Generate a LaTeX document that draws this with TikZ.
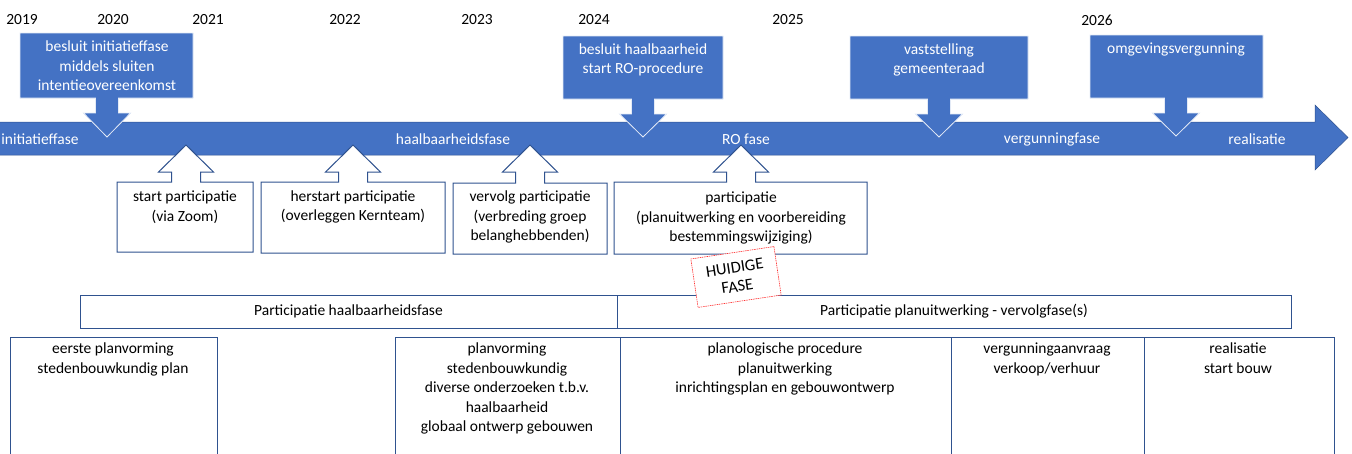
\documentclass[tikz,border=0pt]{standalone}
\usepackage{fontspec}
\setmainfont{Carlito}
\definecolor{obl}{HTML}{4472C4}
\definecolor{odk}{HTML}{2F528F}
\newcommand\dcall[6]{%
  \draw[dcallout] (#1,#3) -- (#2,#3) -- (#2,#4) -- (#5+11.5,#4) -- (#5+11.5,#4+15) -- (#5+23.5,#4+15) -- (#5,#6) -- (#5-23.5,#4+15) -- (#5-11.5,#4+15) -- (#5-11.5,#4) -- (#1,#4) -- cycle;}
\newcommand\ucall[5]{%
  \draw[ucallout] (#1,#4) -- (#2,#4) -- (#2,#3) -- (#5+14.5,#3) -- (#5+14.5,172) -- (#5+27.5,172) -- (#5,145) -- (#5-27.5,172) -- (#5-14.5,172) -- (#5-14.5,#3) -- (#1,#3) -- cycle;}
\tikzset{
  txt/.style={font=\fontsize{15.5}{19.5}\selectfont, align=center, inner sep=0pt},
  wtxt/.style={txt, text=white},
  dcallout/.style={fill=obl, draw=white!85!obl, line width=0.8pt},
  ucallout/.style={fill=white, draw=odk, line width=1pt},
  plainbox/.style={draw=odk, line width=1pt},
}
\begin{document}
\begin{tikzpicture}[x=1pt,y=-1pt]
\useasboundingbox (0,0) rectangle (1352,453);
% years
\foreach \x/\yr in {22/2019,113/2020,208/2021,345/2022,477/2023,594/2024,788/2025,1097/2026}
  \node[txt] (y\yr) at (\x,20) {\yr};
% main band arrow
\fill[obl, draw=odk, line width=0.5pt] (-2,122) -- (1315,122) -- (1315,105) -- (1348,137.5) -- (1315,170) -- (1315,155) -- (-2,155) -- cycle;
% down callouts
\dcall{20}{193}{33}{98}{107}{137}
\dcall{563}{723}{36}{99}{643}{137}
\dcall{850}{1028}{36}{99}{939}{137}
\dcall{1090}{1263}{35}{98}{1176}{136}
\node[wtxt] (d1) at (107,66) {besluit initiatieffase\\middels sluiten\\intentieovereenkomst};
\node[wtxt] (d2) at (643,60) {besluit haalbaarheid\\start RO-procedure};
\node[wtxt] (d3) at (939,60) {vaststelling\\gemeenteraad};
\node[wtxt] (d4) at (1176,49) {omgevingsvergunning};
% phase labels
\node[wtxt] (p1) at (40,139) {initiatieffase};
\node[wtxt] (p2) at (453,139) {haalbaarheidsfase};
\node[wtxt] (p3) at (746,139) {RO fase};
\node[wtxt] (p4) at (1052,139) {vergunningfase};
\node[wtxt] (p5) at (1257,139) {realisatie};
% up callouts
\ucall{117}{253}{182}{252}{186}
\ucall{261}{445}{182}{253}{353}
\ucall{453}{607}{183}{254}{530}
\ucall{614}{867}{182}{254}{741}
\node[txt] (u1) at (185,207) {start participatie\\(via Zoom)};
\node[txt] (u2) at (353,207) {herstart participatie\\(overleggen Kernteam)};
\node[txt] (u3) at (530,217) {vervolg participatie\\(verbreding groep\\belanghebbenden)};
\node[txt] (u4) at (741,218) {participatie\\(planuitwerking en voorbereiding\\bestemmingswijziging)};
% participation bars
\draw[plainbox] (80,295) rectangle (617,328);
\draw[plainbox] (617,295) rectangle (1291,328);
\node[txt] (b1) at (348.5,311) {Participatie haalbaarheidsfase};
\node[txt] (b2) at (954,311) {Participatie planuitwerking - vervolgfase(s)};
% bottom boxes
\draw[plainbox] (10,460) -- (10,337) -- (217,337) -- (217,460);
\draw[plainbox] (395,460) -- (395,337) -- (1334,337) -- (1334,460);
\draw[plainbox] (620,337) -- (620,460);
\draw[plainbox] (951,337) -- (951,460);
\draw[plainbox] (1144,337) -- (1144,460);
\node[txt, anchor=north] (c1) at (113,343) {eerste planvorming\\stedenbouwkundig plan};
\node[txt, anchor=north] (c2) at (507,343) {planvorming\\stedenbouwkundig\\diverse onderzoeken t.b.v.\\haalbaarheid\\globaal ontwerp gebouwen};
\node[txt, anchor=north] (c3) at (785,343) {planologische procedure\\planuitwerking\\inrichtingsplan en gebouwontwerp};
\node[txt, anchor=north] (c4) at (1047,343) {vergunningaanvraag\\verkoop/verhuur};
\node[txt, anchor=north] (c5) at (1238,343) {realisatie\\start bouw};
% stamp
\node[txt, fill=white, draw=red!80, line width=0.6pt, dash pattern=on 1.5pt off 0.8pt, minimum width=84pt, minimum height=49pt, rotate=8.5, font=\fontsize{16.5}{19}\selectfont] (stamp) at (736,277) {HUIDIGE\\FASE};
\end{tikzpicture}
\end{document}
